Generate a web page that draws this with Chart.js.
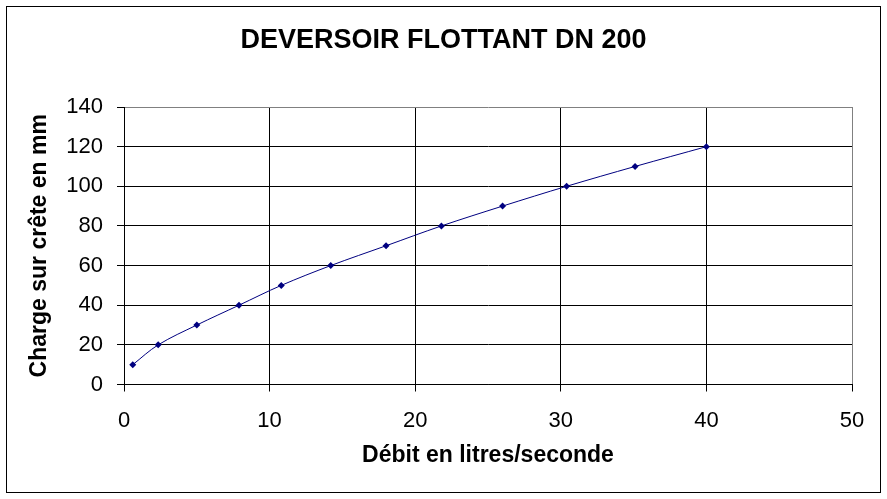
<!DOCTYPE html>
<html lang="fr">
<head>
  <meta charset="UTF-8">
  <title>Déversoir flottant DN 200</title>
  <script src="https://cdn.jsdelivr.net/npm/chart.js"></script>
  <style>
    body { margin: 0; background: #fff; }
    canvas { display: block; }
  </style>
</head>
<body>
  <canvas id="chart" width="887" height="499"></canvas>

  <script>
    // débit (l/s) et charge sur crête (mm)
    const debit = [0.6, 2.35, 5.0, 7.9, 10.8, 14.2, 18.0, 21.8, 26.0, 30.4, 35.1, 40.0];
    const charge = [10, 20, 30, 40, 50, 60, 70, 80, 90, 100, 110, 120];
    const xTicks = [0, 10, 20, 30, 40, 50];
    const yTicks = [0, 20, 40, 60, 80, 100, 120, 140];

    const points = debit.map((d, i) => ({ x: d, y: charge[i] }));
    const police = 'Arial, "Liberation Sans", sans-serif';

    // fond blanc + cadre extérieur
    const cadre = {
      id: 'cadre',
      beforeDraw(chart) {
        const ctx = chart.ctx;
        ctx.save();
        ctx.fillStyle = '#fff';
        ctx.fillRect(0, 0, chart.width, chart.height);
        ctx.strokeStyle = '#000';
        ctx.lineWidth = 1;
        ctx.strokeRect(6.5, 6.5, 874, 486);
        ctx.restore();
      }
    };

    // la dernière ligne (haut / droite) est grise comme le bord de la zone
    const gridColor = (max) => (c) => c.tick && c.tick.value === max ? '#808080' : '#000';

    new Chart(document.getElementById('chart'), {
      type: 'scatter',
      data: {
        datasets: [{
          label: 'Charge',
          data: points,
          showLine: true,
          borderColor: '#000080',
          borderWidth: 1,
          backgroundColor: '#000080',
          pointStyle: 'rectRot',
          pointRadius: 3.5,
          pointBorderWidth: 0,
          tension: 0.35
        }]
      },
      options: {
        responsive: false,
        animation: false,
        layout: { padding: 0 },
        plugins: {
          legend: { display: false },
          tooltip: { enabled: false },
          title: {
            display: true,
            text: 'DEVERSOIR FLOTTANT DN 200',
            color: '#000',
            font: { family: police, size: 27, weight: 'bold' },
            padding: { top: 24, bottom: 50.6 }
          }
        },
        scales: {
          x: {
            type: 'linear',
            min: 0,
            max: 50,
            afterBuildTicks: (s) => { s.ticks = xTicks.map(v => ({ value: v })); },
            afterFit: (s) => { s.height = 114.5; },
            grid: { color: gridColor(50), tickColor: '#000', tickLength: 7, lineWidth: 1 },
            border: { color: '#000', width: 1 },
            ticks: {
              color: '#000',
              padding: 16,
              font: { family: police, size: 22 }
            },
            title: {
              display: true,
              text: 'Débit en litres/seconde',
              color: '#000',
              font: { family: police, size: 23, weight: 'bold' },
              padding: { bottom: 29.5 }
            }
          },
          y: {
            min: 0,
            max: 140,
            afterBuildTicks: (s) => { s.ticks = yTicks.map(v => ({ value: v })); },
            afterFit: (s) => { s.width = 124; },
            grid: { color: gridColor(140), tickColor: '#000', tickLength: 7, lineWidth: 1 },
            border: { color: '#000', width: 1 },
            ticks: {
              color: '#000',
              padding: 14,
              font: { family: police, size: 22 }
            },
            title: {
              display: true,
              text: 'Charge sur crête en mm',
              color: '#000',
              font: { family: police, size: 23, weight: 'bold' },
              padding: { top: 26.2 }
            }
          },
          // marge droite vide, pour garder le titre centré sur toute la largeur
          marge: {
            type: 'linear',
            position: 'right',
            min: 0,
            max: 1,
            afterFit: (s) => { s.width = 35; },
            grid: { display: false, drawTicks: false },
            border: { display: false },
            ticks: { display: false }
          }
        }
      },
      plugins: [cadre]
    });
  </script>
</body>
</html>
